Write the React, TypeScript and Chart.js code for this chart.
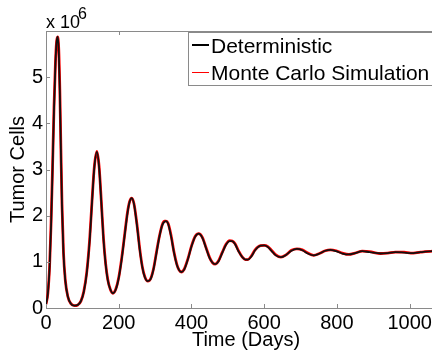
import React, { useEffect, useRef } from "react";
import { Chart, registerables } from "chart.js";

Chart.register(...registerables);

const DAYS = [
  0, 5, 10, 14, 18, 22, 26, 29, 32, 35, 38, 41, 44, 48, 53, 60, 68, 78, 88, 96,
  104, 112, 120, 127, 133, 140, 146, 152, 158, 164, 170, 177, 184, 192, 200, 208,
  216, 224, 230, 236, 242, 250, 258, 265, 272, 280, 288, 296, 304, 312, 320, 326,
  330, 336, 344, 352, 360, 366, 372, 380, 390, 400, 410, 420, 430, 440, 450, 458,
  465, 475, 485, 495, 505, 512, 520, 530, 540, 548, 555, 565, 575, 590, 600, 610,
  620, 632, 646, 660, 675, 690, 705, 720, 736, 752, 768, 782, 798, 815, 833, 850,
  870, 890, 920, 940, 961, 985, 1003, 1030, 1063, 1100,
];

// Tumor cells (millions), deterministic model
const DETERMINISTIC = [
  0.08, 0.3, 0.9, 1.8, 3.0, 4.3, 5.3, 5.75, 5.88, 5.6, 4.7, 3.4, 2.2, 1.2, 0.6, 0.25, 0.1, 0.05, 0.07, 0.15,
  0.35, 0.75, 1.45, 2.35, 3.05, 3.38, 3.05, 2.3, 1.5, 0.95, 0.6, 0.4, 0.32, 0.4, 0.65, 1.05,
  1.55, 2.05, 2.3, 2.38, 2.25, 1.8, 1.25, 0.88, 0.66, 0.58, 0.63, 0.85, 1.2, 1.55, 1.8, 1.87,
  1.88, 1.82, 1.55, 1.2, 0.93, 0.82, 0.78, 0.83, 1.05, 1.33, 1.54, 1.61, 1.52, 1.3, 1.08, 0.98,
  0.95, 1.02, 1.2, 1.37, 1.45, 1.45, 1.38, 1.22, 1.1, 1.05, 1.05, 1.12, 1.25, 1.35, 1.355, 1.32,
  1.24, 1.14, 1.1, 1.15, 1.24, 1.28, 1.25, 1.18, 1.14, 1.18, 1.24, 1.26, 1.23, 1.18, 1.16, 1.19,
  1.23, 1.21, 1.18, 1.19, 1.21, 1.2, 1.19, 1.21, 1.23, 1.24,
];

// Monte Carlo mean (millions)
const MONTE_CARLO = [
  0.08, 0.31, 0.92, 1.85, 3.05, 4.35, 5.32, 5.76, 5.87, 5.62, 4.75, 3.45, 2.25, 1.22, 0.61, 0.25, 0.1, 0.05, 0.07, 0.15,
  0.36, 0.77, 1.48, 2.38, 3.07, 3.39, 3.07, 2.33, 1.52, 0.96, 0.61, 0.4, 0.32, 0.41, 0.66, 1.07,
  1.57, 2.07, 2.31, 2.38, 2.26, 1.82, 1.27, 0.89, 0.67, 0.58, 0.64, 0.86, 1.22, 1.56, 1.81, 1.88,
  1.88, 1.83, 1.57, 1.21, 0.94, 0.82, 0.78, 0.84, 1.06, 1.34, 1.55, 1.61, 1.53, 1.31, 1.09, 0.98,
  0.95, 1.03, 1.21, 1.38, 1.46, 1.45, 1.39, 1.23, 1.1, 1.05, 1.05, 1.13, 1.26, 1.35, 1.355, 1.33,
  1.25, 1.15, 1.1, 1.15, 1.25, 1.28, 1.26, 1.19, 1.14, 1.18, 1.24, 1.26, 1.24, 1.19, 1.16, 1.19,
  1.23, 1.22, 1.18, 1.19, 1.21, 1.21, 1.19, 1.21, 1.23, 1.24,
];

const X_TICKS = [0, 200, 400, 600, 800, 1000];
const Y_TICKS = [0, 1, 2, 3, 4, 5, 6];
const SERIES_NAMES = ["Deterministic", "Monte Carlo Simulation"];
const X_TITLE = "Time (Days)";
const Y_TITLE = "Tumor Cells";
const SCALE = 1e6;

const FONT = "'Liberation Sans', Arial, sans-serif";
const AXIS_COLOR = "#8a8a8a";

const decor = {
  id: "decor",
  afterDraw(chart: any) {
    const { ctx, chartArea: a, scales } = chart;
    const xs = scales.x;
    const ys = scales.y;
    ctx.save();
    ctx.strokeStyle = AXIS_COLOR;
    ctx.lineWidth = 1;
    // top box line
    ctx.beginPath();
    ctx.moveTo(a.left, Math.floor(a.top) + 0.5);
    ctx.lineTo(a.right, Math.floor(a.top) + 0.5);
    ctx.stroke();
    // inward ticks
    ctx.beginPath();
    xs.ticks.forEach((t: any) => {
      const px = Math.round(xs.getPixelForValue(t.value)) + 0.5;
      ctx.moveTo(px, a.bottom);
      ctx.lineTo(px, a.bottom - 4);
      ctx.moveTo(px, a.top);
      ctx.lineTo(px, a.top + 4);
    });
    ys.ticks.forEach((t: any) => {
      const py = Math.round(ys.getPixelForValue(t.value)) + 0.5;
      ctx.moveTo(a.left, py);
      ctx.lineTo(a.left + 4, py);
    });
    ctx.stroke();

    // exponent label
    ctx.fillStyle = "#000";
    ctx.textBaseline = "alphabetic";
    ctx.textAlign = "left";
    ctx.font = `18px ${FONT}`;
    ctx.fillText("x 10", a.left, 28);
    ctx.font = `16px ${FONT}`;
    ctx.fillText("6", 78, 19);

    // legend
    const lx = 188;
    const ly = 32;
    const lh = 53;
    ctx.fillStyle = "#fff";
    ctx.fillRect(lx, ly, 400, lh);
    ctx.strokeStyle = AXIS_COLOR;
    ctx.lineWidth = 1;
    ctx.strokeRect(lx + 0.5, ly + 0.5, 400, lh);
    const colors = ["#000", "#ff0000"];
    const widths = [2, 1];
    const rows = [45, 72.5];
    const bases = [53, 80];
    SERIES_NAMES.forEach((name, i) => {
      ctx.strokeStyle = colors[i];
      ctx.lineWidth = widths[i];
      ctx.beginPath();
      ctx.moveTo(192, rows[i]);
      ctx.lineTo(209, rows[i]);
      ctx.stroke();
      ctx.fillStyle = "#000";
      ctx.font = `21px ${FONT}`;
      ctx.fillText(name, 211, bases[i]);
    });
    ctx.restore();
  },
};

export default function App() {
  const ref = useRef<HTMLCanvasElement>(null);
  useEffect(() => {
    if (!ref.current) return;
    const chart = new Chart(ref.current, {
      type: "line",
      data: {
        datasets: [
          {
            label: SERIES_NAMES[0],
            data: DAYS.map((d, i) => ({ x: d, y: DETERMINISTIC[i] * SCALE })),
            borderColor: "#111",
            borderWidth: 1.8,
            pointRadius: 0,
            cubicInterpolationMode: "monotone",
          },
          {
            label: SERIES_NAMES[1],
            data: DAYS.map((d, i) => ({ x: d, y: MONTE_CARLO[i] * SCALE })),
            borderColor: "#ff0000",
            borderWidth: 2.8,
            pointRadius: 0,
            cubicInterpolationMode: "monotone",
          },
        ],
      },
      options: {
        animation: false,
        responsive: false,
        layout: { padding: { top: 31, right: 0, left: 0, bottom: 0 } },
        plugins: { legend: { display: false }, tooltip: { enabled: false } },
        scales: {
          x: {
            type: "linear",
            min: 0,
            max: 1100,
            afterBuildTicks: (s: any) => {
              s.ticks = X_TICKS.map((v) => ({ value: v }));
            },
            afterFit: (s: any) => {
              s.height = 48;
            },
            ticks: {
              font: { family: FONT, size: 20 },
              color: "#000",
              padding: 3,
              maxRotation: 0,
              autoSkip: false,
              callback: (v: any) => String(v),
            },
            grid: { display: false, drawTicks: false },
            border: { display: true, color: AXIS_COLOR, width: 1 },
            title: {
              display: true,
              text: X_TITLE,
              color: "#000",
              font: { family: FONT, size: 20 },
              padding: { top: 0, bottom: 4 },
            },
          },
          y: {
            type: "linear",
            min: 0,
            max: 6 * SCALE,
            afterBuildTicks: (s: any) => {
              s.ticks = Y_TICKS.map((v) => ({ value: v * SCALE }));
            },
            afterFit: (s: any) => {
              s.width = 46;
            },
            ticks: {
              font: { family: FONT, size: 20 },
              color: "#000",
              padding: 3,
              autoSkip: false,
              callback: (v: any) => (v >= 6 * SCALE ? "" : String(Math.round(v / SCALE))),
            },
            grid: { display: false, drawTicks: false },
            border: { display: true, color: AXIS_COLOR, width: 1 },
            title: {
              display: true,
              text: Y_TITLE,
              color: "#000",
              font: { family: FONT, size: 20 },
              padding: { top: 6, bottom: 0 },
            },
          },
        },
      },
      plugins: [decor],
    });
    return () => chart.destroy();
  }, []);
  return (
    <div
      style={{
        position: "fixed",
        left: 0,
        top: 0,
        width: 432,
        height: 356,
        overflow: "hidden",
        background: "#fff",
      }}
    >
      <canvas ref={ref} width={446} height={356} style={{ display: "block", width: 446, height: 356 }} />
    </div>
  );
}
